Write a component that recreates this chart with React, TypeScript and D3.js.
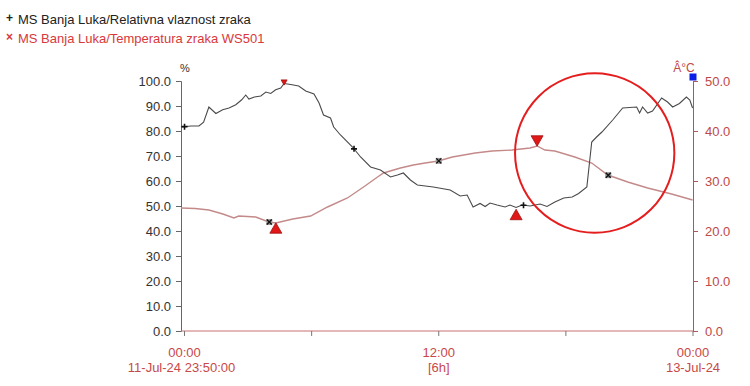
import React, { useEffect, useRef } from 'react';
import * as d3 from 'd3';

// hours after 00:00 on 12 Jul 2024 (negative = 11 Jul)
const humHours = [-0.17, 0.31, 0.68, 0.9, 1.15, 1.48, 1.8, 2.1, 2.42, 2.7, 2.89, 3.04, 3.3, 3.6, 3.84, 4.07, 4.3, 4.54, 4.7, 5.01, 5.39, 5.72, 6.11, 6.35, 6.56, 6.89, 7.04, 7.36, 7.93, 8.31, 8.78, 9.25, 9.72, 10.05, 10.33, 10.66, 10.99, 11.74, 12.54, 13.01, 13.34, 13.62, 13.95, 14.19, 14.42, 14.75, 15.13, 15.36, 15.65, 15.93, 16.31, 16.78, 17.11, 17.48, 17.9, 18.3, 18.6, 18.99, 19.22, 19.45, 19.7, 20.21, 20.68, 21.34, 21.48, 21.62, 21.86, 22.09, 22.52, 22.8, 23.04, 23.36, 23.69, 23.85, 23.98];
const humValues = [81.6, 82.0, 82.0, 83.5, 89.6, 87.0, 88.5, 89.2, 90.5, 92.5, 94.4, 92.8, 93.6, 94.0, 95.6, 95.0, 96.5, 97.2, 99.0, 98.6, 98.0, 96.0, 94.8, 91.2, 86.4, 85.2, 81.6, 78.4, 73.6, 69.6, 65.6, 64.4, 61.6, 62.4, 63.2, 60.4, 58.4, 57.6, 56.4, 54.0, 54.4, 49.6, 51.0, 49.8, 51.2, 50.4, 49.6, 50.4, 49.4, 50.4, 50.0, 50.8, 49.8, 51.6, 53.2, 53.6, 55.0, 57.6, 75.6, 77.6, 79.6, 84.4, 89.2, 89.6, 87.2, 89.6, 87.2, 88.0, 93.2, 91.6, 89.6, 91.0, 93.6, 92.4, 89.2];

const tempHours = [-0.17, 0.5, 1.15, 1.81, 2.33, 2.56, 3.36, 3.98, 4.31, 5.11, 5.95, 6.75, 7.69, 8.45, 9.11, 9.39, 10.19, 10.8, 11.36, 11.98, 12.64, 13.72, 14.52, 15.46, 16.31, 16.64, 17.01, 17.48, 18.42, 19.22, 19.98, 20.92, 21.86, 22.99, 23.98];
const tempValues = [24.6, 24.5, 24.2, 23.4, 22.6, 23.0, 22.8, 21.8, 21.6, 22.4, 23.0, 24.8, 26.6, 28.8, 30.8, 31.6, 32.6, 33.2, 33.6, 34.0, 34.8, 35.6, 36.0, 36.2, 36.6, 37.0, 36.2, 36.0, 34.8, 33.6, 31.2, 29.8, 28.6, 27.4, 26.2];

const humMarkerHours = [0, 8, 16];
const tempMarkerHours = [4, 12, 20];

const leftTicks = [0, 10, 20, 30, 40, 50, 60, 70, 80, 90, 100];
const rightTicks = [0, 10, 20, 30, 40, 50];
const xTickHours = [0, 6, 12, 18, 24];
const xLabels = [
  { h: 0, top: '00:00', bottom: '11-Jul-24 23:50:00' },
  { h: 12, top: '12:00', bottom: '[6h]' },
  { h: 24, top: '00:00', bottom: '13-Jul-24' },
];

// highlight circle, in data units (centre time in hours, humidity %, radius in hours)
const ringCenter = { h: 19.36, v: 71.2 };
const ringRadiusHours = 3.76;

const legendItems = [
  { label: 'MS Banja Luka/Relativna vlaznost zraka', color: '#222222', symbol: '+' },
  { label: 'MS Banja Luka/Temperatura zraka WS501', color: '#d9383c', symbol: '×' },
];

const base = new Date(2024, 6, 12, 0, 0);
const toDate = (h: number) => new Date(base.getTime() + h * 3600 * 1000);

const App = () => {
  const svgRef = useRef<SVGSVGElement>(null);

  useEffect(() => {
    const svg = d3.select(svgRef.current);
    svg.selectAll('*').remove();
    const font = '"Liberation Sans", Arial, sans-serif';

    const x = d3.scaleTime()
      .domain([new Date(2024, 6, 11, 23, 50), new Date(2024, 6, 13, 0, 0)])
      .range([181, 693]);
    const yHum = d3.scaleLinear().domain([0, 100]).range([331, 81]);
    const yTemp = d3.scaleLinear().domain([0, 50]).range([331, 81]);

    const interp = (hs: number[], vs: number[], h: number) => {
      const i = d3.bisectRight(hs, h);
      if (i <= 0) return vs[0];
      if (i >= hs.length) return vs[vs.length - 1];
      const t = (h - hs[i - 1]) / (hs[i] - hs[i - 1]);
      return vs[i - 1] + t * (vs[i] - vs[i - 1]);
    };

    // legend
    legendItems.forEach((d, i) => {
      const g = svg.append('g').attr('transform', `translate(0, ${24 + i * 19})`);
      g.append('text').attr('x', 6).attr('y', -2).attr('font-size', 12).attr('font-weight', 'bold')
        .attr('fill', d.color).attr('font-family', font).text(d.symbol);
      g.append('text').attr('x', 18).attr('y', 0).attr('font-size', 13)
        .attr('fill', d.color).attr('font-family', font).text(d.label);
    });

    // left axis
    const left = svg.append('g').attr('transform', 'translate(181,0)')
      .call(d3.axisLeft(yHum).tickValues(leftTicks).tickSize(5).tickFormat(d3.format('.1f')));
    left.select('.domain').attr('stroke', '#666');
    left.selectAll('line').attr('stroke', '#666');
    left.selectAll('text').attr('fill', '#333').attr('font-size', 13).attr('font-family', font).attr('dx', -2);
    svg.append('text').attr('x', 185).attr('y', 72).attr('text-anchor', 'middle')
      .attr('font-size', 11).attr('font-family', font).attr('fill', '#333').text('%');

    // right axis
    const right = svg.append('g').attr('transform', 'translate(693,0)')
      .call(d3.axisRight(yTemp).tickValues(rightTicks).tickSize(5).tickFormat(d3.format('.1f')));
    right.select('.domain').attr('stroke', '#a85a5a');
    right.selectAll('line').attr('stroke', '#a85a5a');
    right.selectAll('text').attr('fill', '#c04848').attr('font-size', 13).attr('font-family', font).attr('dx', 4);
    svg.append('text').attr('x', 684).attr('y', 72).attr('text-anchor', 'middle')
      .attr('font-size', 12).attr('font-family', font).attr('fill', '#c04848').text('Â°C');

    // bottom axis
    svg.append('line').attr('x1', 181).attr('x2', 693).attr('y1', 331).attr('y2', 331)
      .attr('stroke', '#c87070');
    svg.append('g').selectAll('line').data(xTickHours).join('line')
      .attr('x1', d => x(toDate(d))).attr('x2', d => x(toDate(d)))
      .attr('y1', 331).attr('y2', 336).attr('stroke', '#777');
    const xl = svg.append('g').selectAll('g').data(xLabels).join('g')
      .attr('transform', d => `translate(${x(toDate(d.h))},0)`);
    xl.append('text').attr('y', 357).attr('text-anchor', 'middle').attr('font-size', 13)
      .attr('font-family', font).attr('fill', '#c84848').text(d => d.top);
    xl.append('text').attr('y', 372).attr('text-anchor', 'middle').attr('font-size', 13)
      .attr('font-family', font).attr('fill', '#c84848')
      .attr('dx', d => (d.h === 0 ? -3 : 0)).text(d => d.bottom);

    // lines
    const tempLine = d3.line<number>().x((_, i) => x(toDate(tempHours[i]))).y(d => yTemp(d));
    svg.append('path').attr('d', tempLine(tempValues)).attr('fill', 'none')
      .attr('stroke', '#c48a8a').attr('stroke-width', 1.4);
    const humLine = d3.line<number>().x((_, i) => x(toDate(humHours[i]))).y(d => yHum(d));
    svg.append('path').attr('d', humLine(humValues)).attr('fill', 'none')
      .attr('stroke', '#4a4a4a').attr('stroke-width', 1.1);

    // series markers
    humMarkerHours.forEach(h => {
      const cx = x(toDate(h)), cy = yHum(interp(humHours, humValues, h));
      svg.append('path').attr('d', `M${cx - 3},${cy}H${cx + 3}M${cx},${cy - 3}V${cy + 3}`)
        .attr('stroke', '#111').attr('stroke-width', 1.6);
    });
    tempMarkerHours.forEach(h => {
      const cx = x(toDate(h)), cy = yTemp(interp(tempHours, tempValues, h));
      svg.append('rect').attr('x', cx - 3).attr('y', cy - 3).attr('width', 6).attr('height', 6)
        .attr('fill', '#999');
      svg.append('path').attr('d', `M${cx - 2.5},${cy - 2.5}L${cx + 2.5},${cy + 2.5}M${cx - 2.5},${cy + 2.5}L${cx + 2.5},${cy - 2.5}`)
        .attr('stroke', '#111').attr('stroke-width', 1.4);
    });

    // extremes
    const tri = (cx: number, cy: number, s: number, down: boolean) => {
      const h = s * 0.87;
      return down
        ? `M${cx - s / 2},${cy - h / 2}L${cx + s / 2},${cy - h / 2}L${cx},${cy + h / 2}Z`
        : `M${cx - s / 2},${cy + h / 2}L${cx + s / 2},${cy + h / 2}L${cx},${cy - h / 2}Z`;
    };
    const hMaxI = d3.maxIndex(humValues), hMinI = d3.minIndex(humValues);
    const tMaxI = d3.maxIndex(tempValues), tMinI = d3.minIndex(tempValues);
    const extremes = [
      { cx: x(toDate(humHours[hMaxI])), cy: yHum(humValues[hMaxI]) - 1, s: 6, down: true },
      { cx: x(toDate(humHours[hMinI])), cy: yHum(humValues[hMinI]) + 7, s: 12, down: false },
      { cx: x(toDate(tempHours[tMaxI])), cy: yTemp(tempValues[tMaxI]) - 5, s: 12, down: true },
      { cx: x(toDate(tempHours[tMinI])), cy: yTemp(tempValues[tMinI]) + 5, s: 12, down: false },
    ];
    svg.append('g').selectAll('path').data(extremes).join('path')
      .attr('d', d => tri(d.cx, d.cy, d.s, d.down))
      .attr('fill', '#e01818').attr('stroke', '#a01010').attr('stroke-width', 0.8);

    // end-of-data marker
    svg.append('rect').attr('x', 689.5).attr('y', 73.5).attr('width', 7).attr('height', 7).attr('fill', '#0a1ee6');

    // highlight ring
    const rcx = x(toDate(ringCenter.h));
    const rcy = yHum(ringCenter.v);
    const rr = x(toDate(ringCenter.h + ringRadiusHours)) - rcx;
    svg.append('circle').attr('cx', rcx).attr('cy', rcy).attr('r', rr)
      .attr('fill', 'none').attr('stroke', '#e41e1e').attr('stroke-width', 2);
  }, []);

  return (
    <svg ref={svgRef} width={750} height={386}
      style={{ position: 'absolute', left: 0, top: 0, background: '#fff' }} />
  );
};

export default App;
